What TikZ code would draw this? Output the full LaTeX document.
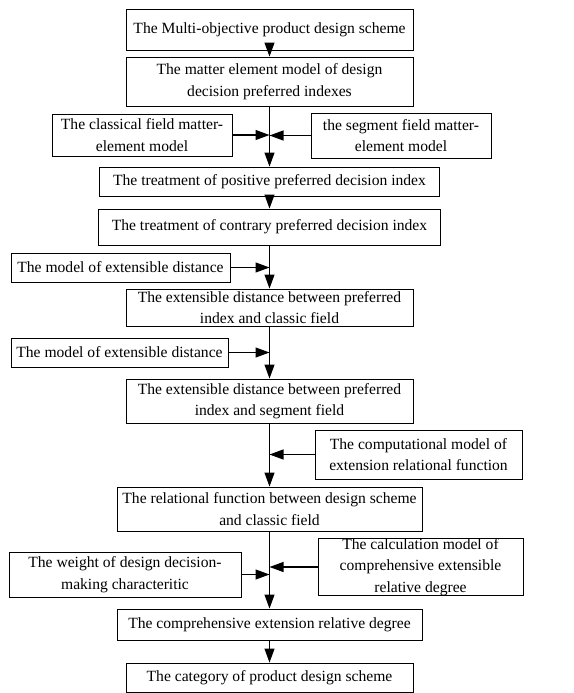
\documentclass[tikz,border=0pt]{standalone}
\usepackage{fontspec}
\setmainfont{Liberation Serif}
\usetikzlibrary{arrows.meta}
\begin{document}
\begin{tikzpicture}[x=1pt, y=-1pt]
	\tikzstyle{box}=[draw=black, line width=0.9pt, align=center, inner sep=0pt, font=\fontsize{15.6}{21.5}\selectfont]
	\tikzstyle{arr}=[line width=1.1pt, -{Triangle[length=14pt, width=10pt]}]
	\useasboundingbox (0,0) rectangle (573,693);
	% Main column
	\node at (269.5, 29.5) [box, minimum width=287, minimum height=41] (scheme) {The Multi-objective product design scheme};
	\node at (269.5, 81.5) [box, minimum width=287, minimum height=49] (matter) {The matter element model of design\\decision preferred indexes};
	\node at (269.5, 181.5) [box, minimum width=340, minimum height=29] (positive) {The treatment of positive preferred decision index};
	\node at (269.5, 227) [box, minimum width=342, minimum height=36] (contrary) {The treatment of contrary preferred decision index};
	\node at (269.5, 307.5) [box, minimum width=287, minimum height=37] (distclassic) {The extensible distance between preferred\\index and classic field};
	\node at (269.5, 401) [box, minimum width=287, minimum height=44] (distsegment) {The extensible distance between preferred\\index and segment field};
	\node at (269.5, 509) [box, minimum width=305, minimum height=44] (relational) {The relational function between design scheme\\and classic field};
	\node at (269.5, 624.5) [box, minimum width=305, minimum height=31] (comprehensive) {The comprehensive extension relative degree};
	\node at (269.5, 677.5) [box, minimum width=287, minimum height=29] (category) {The category of product design scheme};
	% Side inputs
	\node at (142, 135) [box, minimum width=180, minimum height=42] (classical) {The classical field matter-\\element model};
	\node at (401, 135.5) [box, minimum width=180, minimum height=45] (segment) {the segment field matter-\\element model};
	\node at (120.5, 267.5) [box, minimum width=219, minimum height=29] (modelA) {The model of extensible distance};
	\node at (119.5, 352.5) [box, minimum width=217, minimum height=29] (modelB) {The model of extensible distance};
	\node at (418.5, 454.5) [box, minimum width=207, minimum height=49] (computational) {The computational model of\\extension relational function};
	\node at (125, 574.5) [box, minimum width=232, minimum height=45] (weight) {The weight of design decision-\\making characteritic};
	\node at (420.5, 567) [box, minimum width=205, minimum height=56] (calculation) {The calculation model of\\comprehensive extensible\\relative degree};
	% Junctions
	\coordinate (j1) at (269.5, 136);
	\coordinate (j2) at (269.5, 268);
	\coordinate (j3) at (269.5, 353);
	\coordinate (j4) at (269.5, 454);
	\coordinate (j5) at (269.5, 573);
	\coordinate (j6) at (269.5, 567);
	%---------------------%
	% Main column arrows
	\foreach \a/\b in {scheme/matter, matter/positive, positive/contrary, contrary/distclassic, distclassic/distsegment, distsegment/relational, relational/comprehensive, comprehensive/category}
		\draw [arr] (\a.south) to (\b.north);
	% Side arrows
	\foreach \s in {classical, modelA, modelB, weight}
		\draw [arr] (\s.east) to (\s.east -| j1);
	\foreach \s in {segment, computational, calculation}
		\draw [arr] (\s.west) to (\s.west -| j1);
	%---------------------%
\end{tikzpicture}
\end{document}
